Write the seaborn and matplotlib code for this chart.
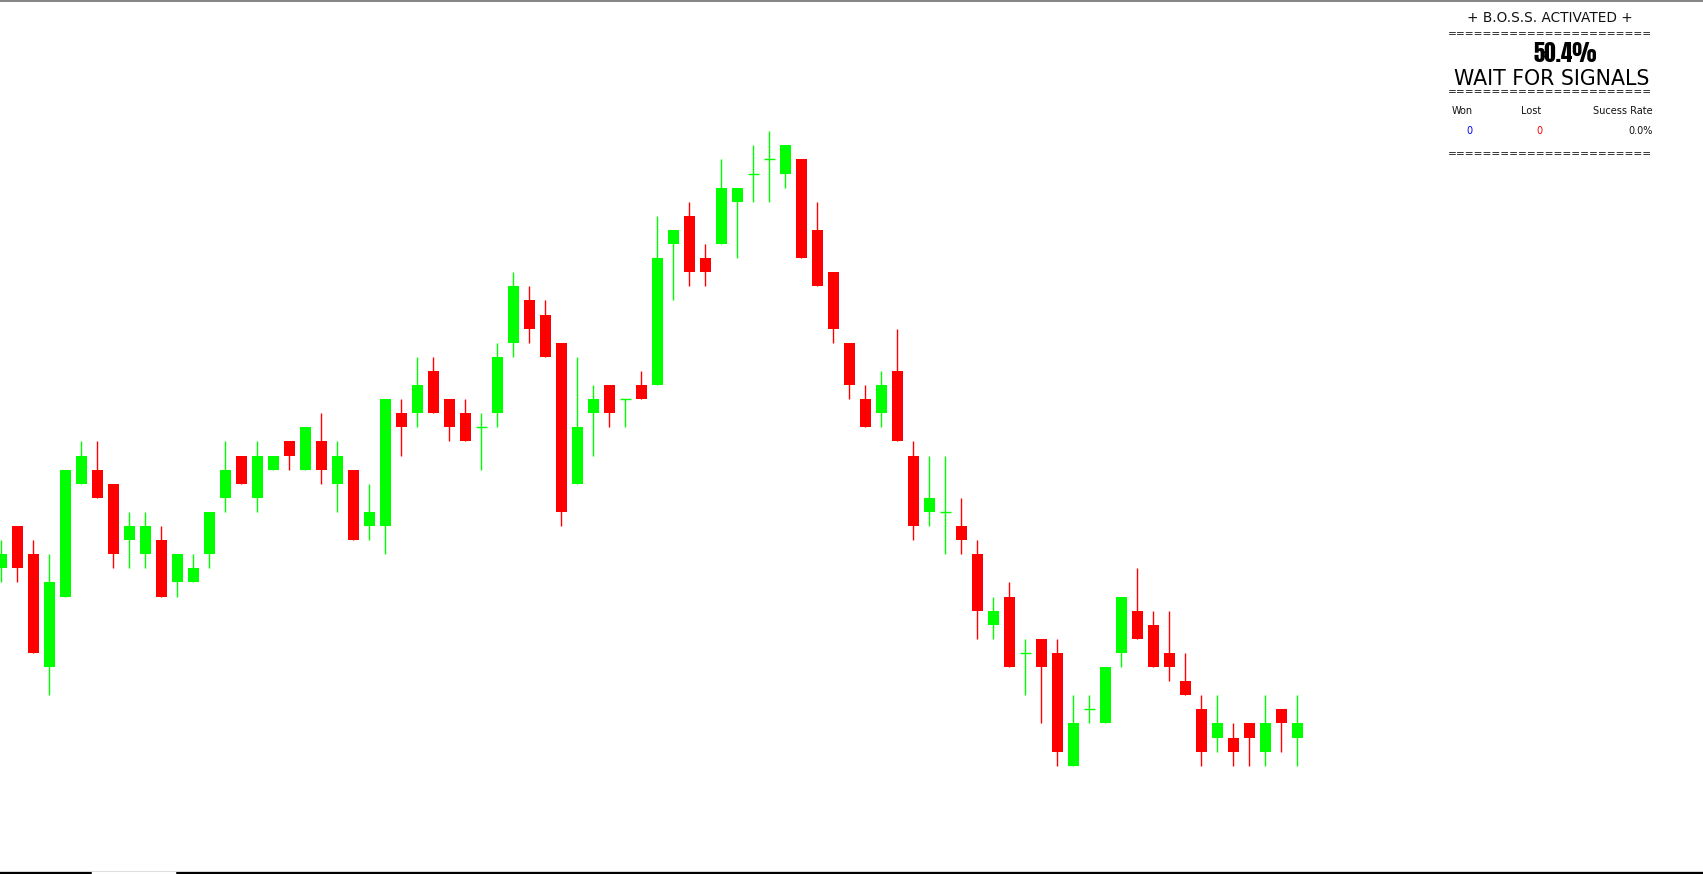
import numpy as np
import pandas as pd
import matplotlib
matplotlib.use("Agg")
import matplotlib.pyplot as plt
from matplotlib.lines import Line2D
import seaborn as sns

# ---- data (price in ticks) ----
opens  = [14, 17, 15, 7, 12, 20, 21, 20, 16, 15, 16, 13, 13, 15, 19, 22, 19, 21, 23, 21,
          23, 20, 21, 17, 17, 25, 25, 28, 26, 25, 24, 25, 30, 33, 32, 30, 20, 25, 27, 26,
          27, 27, 37, 39, 36, 37, 40, 42, 43, 42, 43, 38, 35, 30, 26, 25, 28, 22, 18, 18,
          17, 15, 10, 12, 8, 9, 8, 0, 4, 3, 8, 11, 10, 8, 6, 4, 2, 2, 3, 1, 4, 2]
highs  = [16, 17, 16, 15, 21, 23, 23, 20, 18, 18, 17, 15, 15, 18, 23, 22, 23, 22, 23, 24,
          25, 23, 21, 20, 26, 26, 29, 29, 26, 26, 25, 30, 35, 34, 33, 30, 29, 27, 27, 26,
          28, 39, 38, 40, 37, 43, 41, 44, 45, 44, 43, 40, 35, 30, 27, 28, 31, 23, 22, 22,
          19, 16, 12, 13, 9, 9, 9, 5, 5, 7, 12, 14, 11, 11, 8, 5, 5, 3, 3, 5, 4, 5]
lows   = [13, 13, 8, 5, 12, 20, 19, 14, 14, 14, 12, 12, 13, 14, 18, 20, 18, 21, 21, 21,
          20, 18, 16, 16, 15, 22, 24, 25, 23, 23, 21, 24, 29, 30, 29, 17, 20, 22, 24, 24,
          26, 27, 33, 34, 34, 37, 36, 40, 40, 41, 36, 34, 30, 26, 24, 24, 23, 16, 17, 15,
          15, 9, 9, 7, 5, 3, 0, 0, 3, 3, 7, 9, 7, 6, 5, 0, 1, 0, 0, 0, 1, 0]
closes = [15, 14, 8, 13, 21, 22, 19, 15, 17, 17, 12, 15, 14, 18, 21, 20, 22, 22, 22, 24,
          21, 22, 16, 18, 26, 24, 27, 25, 24, 23, 24, 29, 34, 31, 29, 18, 24, 26, 25, 26,
          26, 36, 38, 35, 35, 41, 41, 42, 43, 44, 36, 34, 31, 27, 24, 27, 23, 17, 19, 18,
          16, 11, 11, 7, 8, 7, 1, 3, 4, 7, 12, 9, 7, 7, 5, 1, 3, 1, 2, 3, 3, 3]

UP, DOWN = "#00ff00", "#ff0000"

sns.set_theme(style="white")
plt.rcParams["font.family"] = ["DejaVu Sans"]

df = pd.DataFrame({"bar": np.arange(len(opens)), "open": opens, "high": highs,
                   "low": lows, "close": closes})
df["body_lo"] = df[["open", "close"]].min(axis=1)
df["body_h"] = (df["close"] - df["open"]).abs()
df["dir"] = np.where(df["close"] > df["open"], "up",
                     np.where(df["close"] < df["open"], "down", "doji"))
df["col"] = np.where(df["dir"] == "down", DOWN, UP)

W, H, DPI = 1703, 874, 100
fig = plt.figure(figsize=(W / DPI, H / DPI), dpi=DPI)
fig.patch.set_facecolor("white")
ax = fig.add_axes([0, 0, 1, 1])

BW = 0.6875
# wicks
ax.vlines(df["bar"], df["low"], df["high"], colors=df["col"], linewidth=1.0, zorder=1)
# bodies
for d, col in [("up", UP), ("down", DOWN)]:
    sub = df[df["dir"] == d].sort_values("bar")
    sns.barplot(data=sub, x="bar", y="body_h", native_scale=True, color=col,
                saturation=1, width=BW, errorbar=None, ax=ax,
                bottom=sub["body_lo"].to_numpy(), linewidth=0, edgecolor="none",
                zorder=2)
# doji crosses
dj = df[df["dir"] == "doji"]
ax.hlines(dj["open"], dj["bar"] - BW / 2, dj["bar"] + BW / 2, colors=UP, linewidth=1.0, zorder=3)

ax.set_xlim(-1.3 / 16, (W - 1.3) / 16)
ax.set_ylim(-108.3 / 14.1, (H - 108.3) / 14.1)
ax.axis("off")

# ---- info panel ----
def T(x, y, s, **kw):
    fig.text(x / W, 1 - y / H, s, **kw)

eq = "=" * 23
T(1550, 22.3, "+ B.O.S.S. ACTIVATED +", ha="center", va="baseline", fontsize=9.8, color="#111111")
T(1550, 36.8, eq, ha="center", va="baseline", fontsize=7.7, color="#111111")
T(1565, 61.7, "50.4%", ha="center", va="baseline", fontsize=16.5,
  family=["Anton", "DejaVu Sans"], color="black")
T(1552, 85, "WAIT FOR SIGNALS", ha="center", va="baseline", fontsize=14.8, color="black")
T(1550, 95.2, eq, ha="center", va="baseline", fontsize=7.7, color="#111111")
T(1451.7, 114, "Won", ha="left", va="baseline", fontsize=7.0, color="#111111")
T(1531.3, 114, "Lost", ha="center", va="baseline", fontsize=7.0, color="#111111")
T(1652.3, 114, "Sucess Rate", ha="right", va="baseline", fontsize=7.0, color="#111111")
T(1469.3, 134, "0", ha="center", va="baseline", fontsize=7.0, color="#0000ff")
T(1539.3, 134, "0", ha="center", va="baseline", fontsize=7.0, color="#ff0000")
T(1652.3, 134, "0.0%", ha="right", va="baseline", fontsize=7.0, color="#111111")
T(1550, 156.8, eq, ha="center", va="baseline", fontsize=7.7, color="#111111")

# ---- window frame lines ----
fig.add_artist(Line2D([0, 1], [1 - 0.8 / H, 1 - 0.8 / H], transform=fig.transFigure,
                      color="#707070", linewidth=1.2))
fig.add_artist(Line2D([0, 1], [1 - 871 / H, 1 - 871 / H], transform=fig.transFigure,
                      color="#e0e0e0", linewidth=0.8))
fig.add_artist(Line2D([0, 91 / W], [1 - 873 / H, 1 - 873 / H], transform=fig.transFigure,
                      color="black", linewidth=1.5))
fig.add_artist(Line2D([177 / W, 1], [1 - 873 / H, 1 - 873 / H], transform=fig.transFigure,
                      color="black", linewidth=1.5))

fig.savefig("out.png", dpi=DPI, facecolor="white")
